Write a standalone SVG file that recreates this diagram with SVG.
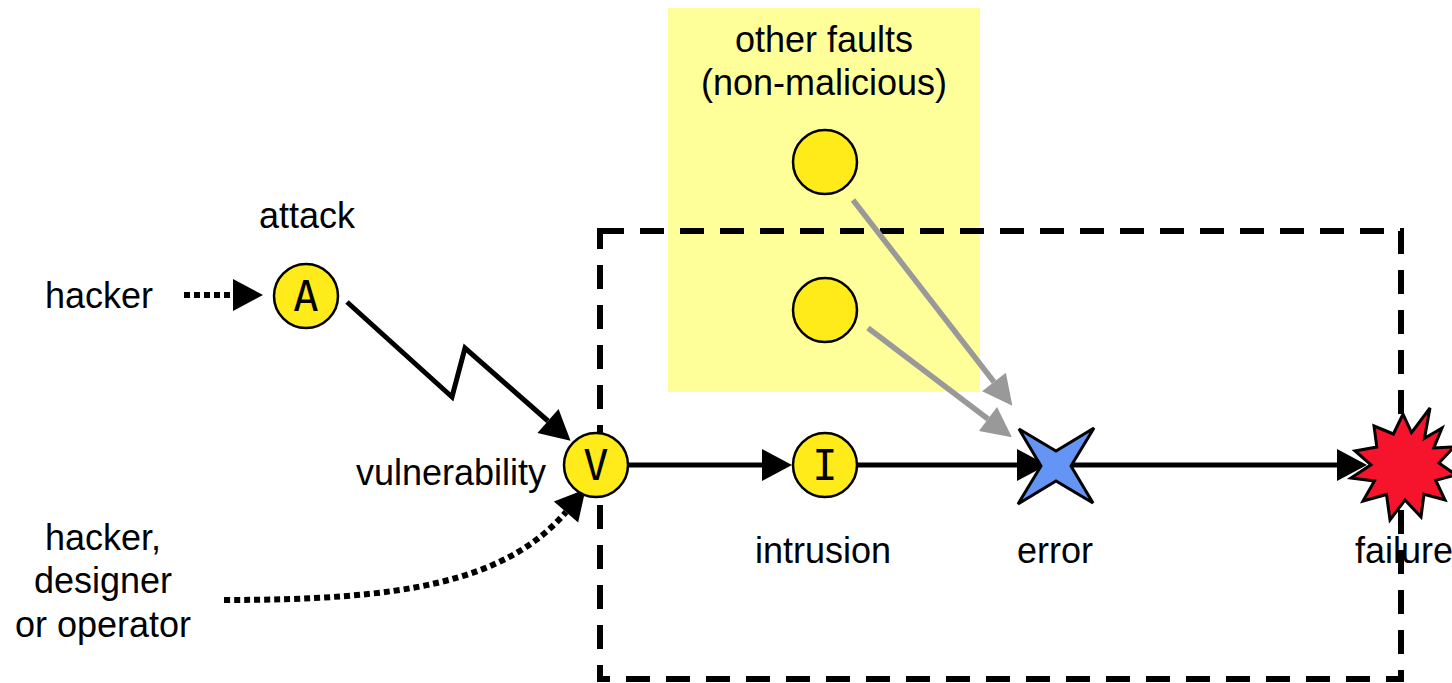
<svg xmlns="http://www.w3.org/2000/svg" width="1452" height="683" viewBox="0 0 1452 683">
<style>
.lbl{font-family:"Liberation Sans",Arial,sans-serif;font-size:36px;fill:#000;text-anchor:middle}
.sym{font-family:"DejaVu Sans Mono","Liberation Mono",monospace;font-size:42px;fill:#000;text-anchor:middle}
.node{fill:#FFEB1A;stroke:#000;stroke-width:2.5}
.conn{fill:none;stroke:#000;stroke-width:5}
.dot{fill:none;stroke:#000;stroke-width:6;stroke-dasharray:6 4}
.gray{fill:none;stroke:#999;stroke-width:5.5}
</style>
<defs>
<marker id="ah" markerUnits="userSpaceOnUse" markerWidth="32" markerHeight="34" refX="0" refY="16" orient="auto" overflow="visible">
<path d="M0,0 L30,16 L0,32 Z" fill="#000"/>
</marker>
<marker id="ahg" markerUnits="userSpaceOnUse" markerWidth="32" markerHeight="34" refX="0" refY="15" orient="auto" overflow="visible">
<path d="M0,0 L30,15 L0,30 Z" fill="#999"/>
</marker>
</defs>
<rect id="faults-area" x="668" y="8" width="312" height="384" fill="#FFFF99"/>
<rect id="boundary" x="600" y="231" width="801" height="448" fill="none" stroke="#000" stroke-width="6" stroke-dasharray="24 16"/>
<text class="lbl" x="824" y="52">other faults</text>
<text class="lbl" x="824" y="95">(non-malicious)</text>
<g id="connectors">
<path class="dot" d="M184,295 L233,295" marker-end="url(#ah)"/>
<path class="conn" d="M347,302 L452,397 L465,348 L548,421" marker-end="url(#ah)"/>
<path class="dot" d="M224,600 C400,600 505,583 566,512" marker-end="url(#ah)"/>
<path class="conn" d="M628,465 L762,465" marker-end="url(#ah)"/>
<path class="conn" d="M857,465 L1017,465" marker-end="url(#ah)"/>
<path class="conn" d="M1072,465 L1337,465" marker-end="url(#ah)"/>
<path class="gray" d="M853,200 L994,382" marker-end="url(#ahg)"/>
<path class="gray" d="M868,328 L988,419" marker-end="url(#ahg)"/>
</g>
<g id="hacker"><text class="lbl" x="99" y="308">hacker</text></g>
<g id="attack">
<circle class="node" cx="306" cy="296" r="32"/>
<text class="sym" x="306" y="311">A</text>
<text class="lbl" x="307" y="228">attack</text>
</g>
<g id="vulnerability">
<circle class="node" cx="596" cy="465" r="32"/>
<text class="sym" x="596" y="480">V</text>
<text class="lbl" x="451" y="485">vulnerability</text>
</g>
<g id="hacker-designer">
<text class="lbl" x="103" y="550">hacker,</text>
<text class="lbl" x="103" y="593">designer</text>
<text class="lbl" x="103" y="637">or operator</text>
</g>
<g id="intrusion">
<circle class="node" cx="825" cy="465" r="32"/>
<text class="sym" x="825" y="480">I</text>
<text class="lbl" x="823" y="563">intrusion</text>
</g>
<g id="fault1"><circle class="node" cx="825" cy="162" r="32"/></g>
<g id="fault2"><circle class="node" cx="825" cy="310" r="32"/></g>
<g id="error">
<path d="M1019,429 L1056,451 L1094,428 L1071,466 L1093,503 L1056,481 L1018,504 L1041,466 Z" fill="#6495F5" stroke="#000" stroke-width="3" stroke-linejoin="miter"/>
<text class="lbl" x="1055" y="563">error</text>
</g>
<g id="failure">
<path d="M1403,414 L1411.5,432.6 L1430,408 L1424.5,438.2 L1442,428 L1433.8,448 L1454,447 L1438.9,463 L1456,475 L1435.8,480.4 L1445,500 L1424,494.2 L1421,517 L1405,500 L1390,520 L1386.5,494.5 L1363,501 L1374.4,480.9 L1351,478 L1371,464.8 L1355,451 L1376.8,447 L1374,426 L1393.4,434 Z" fill="#F5142B" stroke="#000" stroke-width="3"/>
<text class="lbl" x="1355" y="563" style="text-anchor:start">failure</text>
</g>
</svg>
